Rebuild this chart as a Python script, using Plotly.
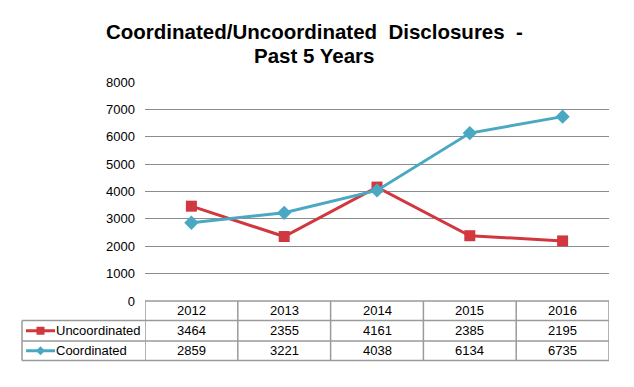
import plotly.graph_objects as go

years = ["2012", "2013", "2014", "2015", "2016"]
uncoordinated = [3464, 2355, 4161, 2385, 2195]
coordinated = [2859, 3221, 4038, 6134, 6735]
series_names = ["Uncoordinated", "Coordinated"]
y_ticks = [0, 1000, 2000, 3000, 4000, 5000, 6000, 7000, 8000]

RED = "#D1373F"
BLUE = "#4BA8C2"
GRID = "#8C8C8C"
TABLE = "#9A9A9A"
FONT = "Liberation Sans, Arial, sans-serif"

W, H = 634, 387
L, R, T, B = 145, 609, 82, 301
PW, PH = R - L, B - T


def px(x):
    return (x - L) / PW


def py(y):
    return (B - y) / PH


fig = go.Figure()
fig.add_trace(go.Scatter(
    x=years, y=uncoordinated, name=series_names[0], mode="lines+markers",
    line=dict(color=RED, width=3),
    marker=dict(symbol="square", size=11, color=RED),
    cliponaxis=False,
))
fig.add_trace(go.Scatter(
    x=years, y=coordinated, name=series_names[1], mode="lines+markers",
    line=dict(color=BLUE, width=3),
    marker=dict(symbol="diamond", size=11, color=BLUE),
    cliponaxis=False,
))

shapes = []
annotations = []

row_tops = [301, 320.5, 341]
row_bottom = 360.5
legend_left = 22

shapes.append(dict(type="line", xref="paper", yref="paper",
                   x0=px(L), x1=px(R), y0=py(row_tops[0]), y1=py(row_tops[0]),
                   line=dict(color=TABLE, width=1.5)))
for yy in row_tops[1:] + [row_bottom]:
    shapes.append(dict(type="line", xref="paper", yref="paper",
                       x0=px(legend_left), x1=px(R), y0=py(yy), y1=py(yy),
                       line=dict(color=TABLE, width=1.5)))
for i in range(len(years) + 1):
    shapes.append(dict(type="line", xref="x", yref="paper",
                       x0=i - 0.5, x1=i - 0.5, y0=py(row_tops[0]), y1=py(row_bottom),
                       line=dict(color=TABLE, width=1.5)))
shapes.append(dict(type="line", xref="paper", yref="paper",
                   x0=px(legend_left), x1=px(legend_left),
                   y0=py(row_tops[1]), y1=py(row_bottom),
                   line=dict(color=TABLE, width=1.5)))

for i, yr in enumerate(years):
    annotations.append(dict(x=i, y=py((row_tops[0] + row_tops[1]) / 2), xref="x", yref="paper",
                            text=yr, showarrow=False, xanchor="center", yanchor="middle",
                            font=dict(size=13, color="#000", family=FONT)))

rows = [uncoordinated, coordinated]
colors = [RED, BLUE]
for r, vals in enumerate(rows):
    top = row_tops[r + 1]
    bot = row_tops[r + 2] if r + 2 < len(row_tops) else row_bottom
    ymid = (top + bot) / 2
    for i, v in enumerate(vals):
        annotations.append(dict(x=i, y=py(ymid), xref="x", yref="paper",
                                text=str(v), showarrow=False, xanchor="center", yanchor="middle",
                                font=dict(size=13, color="#000", family=FONT)))
    annotations.append(dict(x=px(54), y=py(ymid), xref="paper", yref="paper",
                            text=series_names[r], showarrow=False, xanchor="left", yanchor="middle",
                            font=dict(size=13, color="#000", family=FONT)))
    shapes.append(dict(type="line", xref="paper", yref="paper",
                       x0=px(26), x1=px(55), y0=py(ymid), y1=py(ymid),
                       line=dict(color=colors[r], width=3)))
    cx = 40.5
    if r == 0:
        shapes.append(dict(type="rect", xref="paper", yref="paper",
                           x0=px(cx - 4), x1=px(cx + 4), y0=py(ymid + 4), y1=py(ymid - 4),
                           fillcolor=colors[r], line=dict(width=0)))
    else:
        shapes.append(dict(type="path", xref="paper", yref="paper",
                           path=(f"M {px(cx - 4.5)} {py(ymid)} L {px(cx)} {py(ymid - 4.5)} "
                                 f"L {px(cx + 4.5)} {py(ymid)} L {px(cx)} {py(ymid + 4.5)} Z"),
                           fillcolor=colors[r], line=dict(width=0)))

annotations.append(dict(x=px(314), y=py(32), xref="paper", yref="paper",
                        text="<b>Coordinated/Uncoordinated  Disclosures  -</b>", showarrow=False,
                        xanchor="center", yanchor="middle",
                        font=dict(size=20.5, color="#000", family=FONT)))
annotations.append(dict(x=px(314), y=py(56), xref="paper", yref="paper",
                        text="<b>Past 5 Years</b>", showarrow=False,
                        xanchor="center", yanchor="middle",
                        font=dict(size=20.5, color="#000", family=FONT)))

fig.update_layout(
    width=W, height=H,
    margin=dict(l=L, r=W - R, t=T, b=H - B, pad=0),
    paper_bgcolor="white", plot_bgcolor="white",
    showlegend=False,
    hovermode=False,
    font=dict(family=FONT, size=13, color="#000"),
    xaxis=dict(type="category", range=[-0.5, len(years) - 0.5], showticklabels=False,
               showgrid=False, zeroline=False, showline=False, ticks=""),
    yaxis=dict(range=[0, 8000], tickvals=y_ticks, ticktext=[str(v) for v in y_ticks],
               showgrid=True, gridcolor=GRID, gridwidth=1, zeroline=False,
               showline=False, ticks="", ticklabelstandoff=9,
               tickfont=dict(size=13, color="#000", family=FONT)),
    shapes=shapes,
    annotations=annotations,
)

fig.write_html("out.html", config={"displayModeBar": False},
               post_script="document.body.style.margin='0';")
